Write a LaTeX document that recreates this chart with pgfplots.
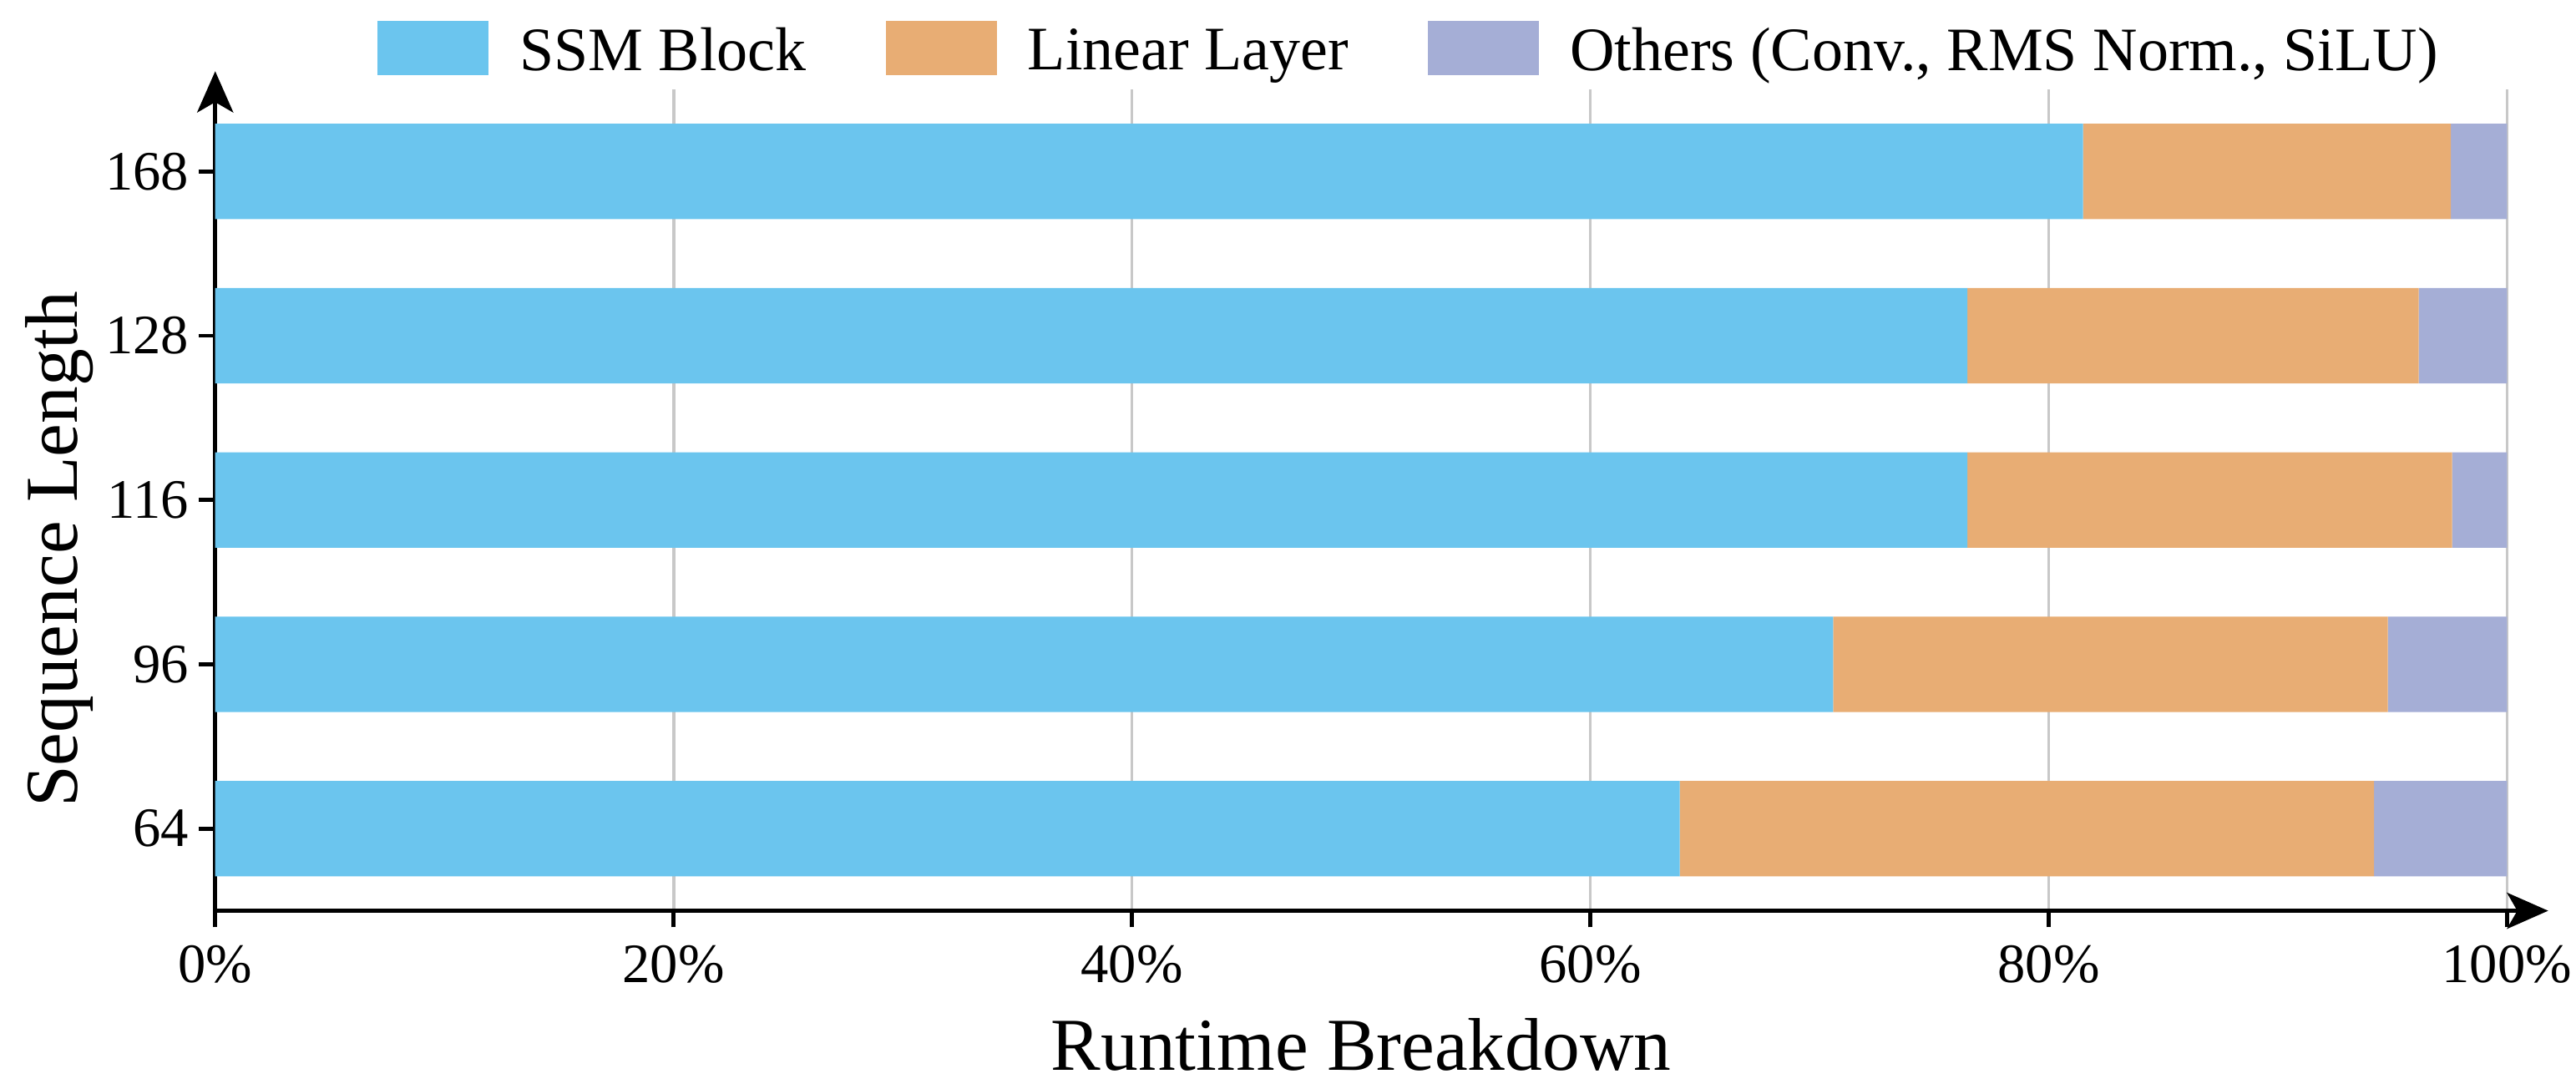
\documentclass[border=0pt]{standalone}
\usepackage{pgfplots}
\pgfplotsset{compat=1.18}
\usepackage{fontspec}
\setmainfont{Liberation Serif}
\usetikzlibrary{arrows.meta}
\definecolor{cssm}{RGB}{107,197,238}
\definecolor{clin}{RGB}{232,173,116}
\definecolor{coth}{RGB}{165,174,214}
\begin{document}
\begin{tikzpicture}
\begin{axis}[
  scale only axis,
  width=445pt, height=159.5pt,
  xbar stacked,
  bar width=0.58,
  xmin=0, xmax=100,
  ymin=-0.5, ymax=4.5,
  axis lines=left,
  axis line style={line width=0.8pt},
  x axis line style={-{Stealth[length=8pt,width=7pt,inset=2pt]}, shorten >=-8pt},
  y axis line style={-{Stealth[length=8pt,width=7pt,inset=2pt]}, shorten >=-3.5pt, shorten <=-3pt},
  xtick={0,20,40,60,80,100},
  xticklabels={0\%,20\%,40\%,60\%,80\%,100\%},
  ytick={0,1,2,3,4},
  yticklabels={64,96,116,128,168},
  tick align=outside,
  major tick length=3.2pt,
  tick style={line width=0.8pt, black},
  xmajorgrids,
  grid style={line width=0.6pt, color={rgb,255:red,200;green,200;blue,200}},
  tick label style={font=\fontsize{10.8}{12}\selectfont},
  yticklabel style={xshift=1.6pt},
  xticklabel style={inner xsep=0.8pt},
  xlabel={Runtime Breakdown},
  ylabel={Sequence Length},
  label style={font=\fontsize{14.5}{16}\selectfont},
  ylabel style={at={(axis description cs:-0.0418,0.44)}, rotate=0, anchor=south, inner xsep=0pt, inner ysep=4.9pt},
  legend columns=-1,
  legend style={at={(axis description cs:0.5226,1.044)}, anchor=center, draw=none, fill=none,
    inner ysep=3.4pt,
    font=\fontsize{12}{14}\selectfont,
    /tikz/every even column/.append style={column sep=13.4pt},
    /tikz/every odd column/.append style={column sep=4pt}},
  legend image code/.code={\fill[#1] (0pt,-4.3pt) rectangle (21.6pt,6.2pt);},
]
\addplot[fill=cssm, draw=none] coordinates {(63.9,0) (70.6,1) (76.45,2) (76.45,3) (81.5,4)};
\addplot[fill=clin, draw=none] coordinates {(30.3,0) (24.2,1) (21.15,2) (19.7,3) (16.05,4)};
\addplot[fill=coth, draw=none] coordinates {(5.8,0) (5.2,1) (2.4,2) (3.85,3) (2.45,4)};
\legend{SSM Block, Linear Layer, {Others (Conv., RMS Norm., SiLU)}}
\end{axis}
\end{tikzpicture}
\end{document}
